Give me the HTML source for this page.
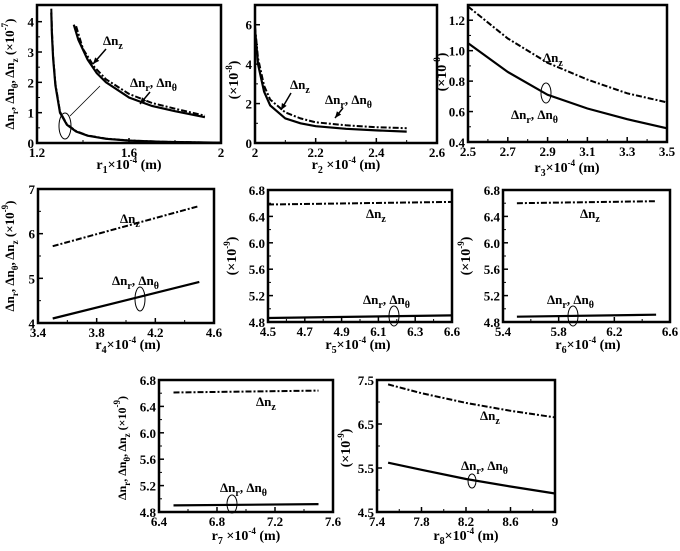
<!DOCTYPE html>
<html><head><meta charset="utf-8"><style>
body{margin:0;background:#fff}
svg{display:block}
svg text{font-family:"Liberation Serif","Times New Roman","DejaVu Serif",serif;font-weight:bold;fill:#000}
</style></head><body>
<svg id="fig" width="680" height="551" viewBox="0 0 680 551"></svg>
<script>
// Panel 1
const p1X=[1.2,1.6,2], p1Y=[0,1,2,3,4];
const p1LowX=[1.262,1.265,1.27,1.28,1.3,1.33,1.37,1.42,1.5,1.6,1.75,1.9,2.0];
const p1LowY=[4.3,3.6,2.8,1.9,1.0,0.6,0.38,0.24,0.14,0.08,0.04,0.02,0.01];
const p1SolX=[1.36,1.38,1.42,1.46,1.5,1.6,1.7,1.8,1.93];
const p1SolY=[3.9,3.4,2.75,2.3,2.0,1.5,1.22,1.05,0.85];
const p1DashX=[1.37,1.4,1.45,1.5,1.6,1.7,1.8,1.93];
const p1DashY=[3.85,3.1,2.5,2.1,1.62,1.32,1.13,0.9];
// Panel 2
const p2X=[2,2.2,2.4,2.6], p2Y=[0,2,4,6];
const p2SolX=[2.0,2.01,2.03,2.05,2.1,2.15,2.2,2.3,2.4,2.5];
const p2SolY=[5.8,4.0,2.6,1.9,1.25,1.0,0.85,0.72,0.64,0.58];
const p2DashX=[2.0,2.01,2.03,2.05,2.1,2.15,2.2,2.3,2.4,2.5];
const p2DashY=[5.9,4.3,2.9,2.2,1.55,1.25,1.05,0.9,0.8,0.75];
// Panel 3
const p3X=[2.5,2.7,2.9,3.1,3.3,3.5], p3Y=[0.4,0.6,0.8,1.0,1.2];
const p3SolX=[2.5,2.7,2.9,3.1,3.3,3.5], p3SolY=[1.05,0.86,0.71,0.62,0.55,0.49];
const p3DashX=[2.5,2.7,2.9,3.1,3.3,3.5], p3DashY=[1.29,1.08,0.92,0.81,0.72,0.66];
// Panel 4
const p4X=[3.4,3.8,4.2,4.6], p4Y=[4,5,6,7];
const p4SolX=[3.5,4.5], p4SolY=[4.1,4.92];
const p4DashX=[3.5,4.5], p4DashY=[5.72,6.62];
// Panel 5
const p5XL=["4.5","4.7","4.9","6.1","6.3","6.6"], p5Y=[4.8,5.2,5.6,6.0,6.4,6.8];
const p5SolX=[0,5], p5SolY=[4.86,4.9];
const p5DashX=[0,5], p5DashY=[6.58,6.62];
// Panel 6
const p6X=[5.4,5.8,6.2,6.6], p6Y=[4.8,5.2,5.6,6.0,6.4,6.8];
const p6SolX=[5.5,6.5], p6SolY=[4.88,4.91];
const p6DashX=[5.5,6.5], p6DashY=[6.6,6.63];
// Panel 7
const p7X=[6.4,6.8,7.2,7.6], p7Y=[4.8,5.2,5.6,6.0,6.4,6.8];
const p7SolX=[6.5,7.5], p7SolY=[4.9,4.92];
const p7DashX=[6.5,7.5], p7DashY=[6.61,6.64];
// Panel 8
const p8X=[7.4,7.8,8.2,8.6,9], p8Y=[4.5,5.5,6.5,7.5];
const p8SolX=[7.5,7.8,8.2,8.6,9], p8SolY=[5.62,5.46,5.25,5.08,4.92];
const p8DashX=[7.5,7.8,8.2,8.6,9], p8DashY=[7.4,7.2,6.98,6.8,6.65];

const NS="http://www.w3.org/2000/svg";
const svg=document.getElementById('fig');
function mk(tag,attrs,parent){const e=document.createElementNS(NS,tag);for(const k in attrs)e.setAttribute(k,attrs[k]);(parent||svg).appendChild(e);return e;}
function txt(x,y,s,size,anchor,parent){const t=mk('text',{x:x,y:y,'font-size':size,'text-anchor':anchor||'middle'},parent);t.innerHTML=s;return t;}

function panel(id,box,xmin,xmax,ymin,ymax,xt,xlabels,yt,ylabels,series){
  const g=mk('g',{});
  
  
  const [L,T,R,B]=box;
  const sx=v=>L+(v-xmin)/(xmax-xmin)*(R-L);
  const sy=v=>B-(v-ymin)/(ymax-ymin)*(B-T);
  const fr=mk('rect',{x:L,y:T,width:R-L,height:B-T,fill:'none',stroke:'#000','stroke-width':2.5},g);
  
  
  xt.forEach((v,i)=>{
    const x=sx(v);
    mk('line',{x1:x,y1:B,x2:x,y2:B-5,stroke:'#000','stroke-width':1.5},g);
    if(i<xt.length-1){const xm=(x+sx(xt[i+1]))/2;mk('line',{x1:xm,y1:B,x2:xm,y2:B-3,stroke:'#000','stroke-width':1},g);}
    const t=txt(x,B+14,xlabels[i],13,'middle',g);
    
    
  });
  yt.forEach((v,i)=>{
    const y=sy(v);
    mk('line',{x1:L,y1:y,x2:L+5,y2:y,stroke:'#000','stroke-width':1.5},g);
    if(i<yt.length-1){const ym=(y+sy(yt[i+1]))/2;mk('line',{x1:L,y1:ym,x2:L+3,y2:ym,stroke:'#000','stroke-width':1},g);}
    const t=txt(L-3,y+5,ylabels[i],13,'end',g);
    
    
  });
  series.forEach(s=>{
    const pts=s.x.map((v,i)=>sx(v).toFixed(1)+','+sy(s.y[i]).toFixed(1)).join(' ');
    const p=mk('polyline',{points:pts,fill:'none',stroke:'#000','stroke-width':s.dash?2:2.2,'stroke-dasharray':s.dash?'6,2,2,2':'none'},g);
    
    
  });
  return {g,sx,sy};
}
const D='\u0394';
const nz=D+'n<tspan dy="4" font-size="10">z</tspan>';
const nrt=D+'n<tspan dy="4" font-size="10">r</tspan><tspan dy="-4">, '+D+'n</tspan><tspan dy="4" font-size="10">θ</tspan>';
function xlab(x,y,sub,extra){const t=txt(x,y,'r<tspan dy="4" font-size="10">'+sub+'</tspan><tspan dy="-4">'+(extra||'')+'×10</tspan><tspan dy="-6" font-size="9">-4</tspan><tspan dy="6"> (m)</tspan>',14,'middle');}
function ylab(x,y,s,fs){const t=txt(0,0,s,fs||14,'middle');t.setAttribute('transform','translate('+x+','+y+') rotate(-90)');}
function lab(x,y,s){const t=txt(x,y,s,13,'start');}
function ell(x,y,rx,ry){mk('ellipse',{cx:x,cy:y,rx:rx,ry:ry,fill:'none',stroke:'#000','stroke-width':1});}
function arrow(x1,y1,x2,y2){mk('line',{x1:x1,y1:y1,x2:x2,y2:y2,stroke:'#000','stroke-width':1.5});const a=Math.atan2(y2-y1,x2-x1);mk('polygon',{points:[x2,y2,x2-7*Math.cos(a-0.4),y2-7*Math.sin(a-0.4),x2-7*Math.cos(a+0.4),y2-7*Math.sin(a+0.4)].join(',')});}
const yfull=(e)=>D+'n<tspan dy="4" font-size="9">r</tspan><tspan dy="-4">, '+D+'n</tspan><tspan dy="4" font-size="9">θ</tspan><tspan dy="-4">, '+D+'n</tspan><tspan dy="4" font-size="9">z</tspan><tspan dy="-4"> (×10</tspan><tspan dy="-6" font-size="9">'+e+'</tspan><tspan dy="6">)</tspan>';
const ysmall=(e)=>'(×10<tspan dy="-6" font-size="9">'+e+'</tspan><tspan dy="6">)</tspan>';

// P1
panel('panel-r1',[37,5,221,143],1.2,2.0,0,4.55,p1X,['1.2','1.6','2'],p1Y,['0','1','2','3','4'],
 [{x:p1LowX,y:p1LowY,name:'p1-low-solid'},{x:p1LowX,y:p1LowY.map(v=>v*1.03),dash:1,name:'p1-low-dash'},
  {x:p1SolX,y:p1SolY,name:'p1-solid'},{x:p1DashX,y:p1DashY,dash:1,name:'p1-dash'}]);
lab(103,45,nz);arrow(106,49,93,64);
lab(130,87,nrt);arrow(150,92,140,104);
ell(65,126,6,13);mk('line',{x1:70,y1:116,x2:100,y2:86,stroke:'#000','stroke-width':0.8});
xlab(129,169,'1','');ylab(14,74,yfull('-7'),13);
// P2
panel('panel-r2',[255,5,437,143],2.0,2.6,0,7.0,p2X,['2','2.2','2.4','2.6'],p2Y,['0','2','4','6'],
 [{x:p2SolX,y:p2SolY,name:'p2-solid'},{x:p2DashX,y:p2DashY,dash:1,name:'p2-dash'}]);
lab(290,89,nz);arrow(291,93,281,110);
lab(325,104,nrt);arrow(343,108,335,118);
xlab(346,169,'2',' ');ylab(238,80,ysmall('-8'));
// P3
panel('panel-r3',[468,5,667,142],2.5,3.5,0.4,1.3,p3X,['2.5','2.7','2.9','3.1','3.3','3.5'],p3Y,['0.4','0.6','0.8','1.0','1.2'],
 [{x:p3SolX,y:p3SolY,name:'p3-solid'},{x:p3DashX,y:p3DashY,dash:1,name:'p3-dash'}]);
lab(543,62,nz);lab(511,119,nrt);ell(546,93,5,10);
xlab(567,172,'3','');ylab(446,72,ysmall('-8'));
// P4
panel('panel-r4',[38,189,214,323],3.4,4.6,4,7,p4X,['3.4','3.8','4.2','4.6'],p4Y,['4','5','6','7'],
 [{x:p4SolX,y:p4SolY,name:'p4-solid'},{x:p4DashX,y:p4DashY,dash:1,name:'p4-dash'}]);
lab(120,223,nz);lab(112,285,nrt);ell(140,299,5,12);
xlab(128,349,'4','');ylab(14,256,yfull('-9'),13);
// P5
panel('panel-r5',[268,190,452,322],0,5,4.8,6.8,[0,1,2,3,4,5],p5XL,p5Y,p5Y.map(v=>v.toFixed(1)),
 [{x:p5SolX,y:p5SolY,name:'p5-solid'},{x:p5DashX,y:p5DashY,dash:1,name:'p5-dash'}]);
lab(366,218,nz);lab(363,304,nrt);ell(394,316,5,10);
xlab(358,349,'5','');ylab(236,256,ysmall('-9'));
// P6
panel('panel-r6',[503,190,670,322],5.4,6.6,4.8,6.8,p6X,['5.4','5.8','6.2','6.6'],p6Y,p6Y.map(v=>v.toFixed(1)),
 [{x:p6SolX,y:p6SolY,name:'p6-solid'},{x:p6DashX,y:p6DashY,dash:1,name:'p6-dash'}]);
lab(580,218,nz);lab(547,304,nrt);ell(573,316,5,10);
xlab(588,349,'6','');ylab(470,256,ysmall('-9'));
// P7
panel('panel-r7',[159,380,333,512],6.4,7.6,4.8,6.8,p7X,['6.4','6.8','7.2','7.6'],p7Y,p7Y.map(v=>v.toFixed(1)),
 [{x:p7SolX,y:p7SolY,name:'p7-solid'},{x:p7DashX,y:p7DashY,dash:1,name:'p7-dash'}]);
lab(256,406,nz);lab(220,492,nrt);ell(232,504,5,9);
xlab(246,540,'7',' ');ylab(126,448,yfull('-9'),12);
// P8
panel('panel-r8',[377,380,555,512],7.4,9.0,4.5,7.5,p8X,['7.4','7.8','8.2','8.6','9'],p8Y,['4.5','5.5','6.5','7.5'],
 [{x:p8SolX,y:p8SolY,name:'p8-solid'},{x:p8DashX,y:p8DashY,dash:1,name:'p8-dash'}]);
lab(480,420,nz);lab(461,470,nrt);ell(472,481,4,7);
xlab(466,540,'8','');ylab(350,448,ysmall('-9'));
</script>
</body></html>
